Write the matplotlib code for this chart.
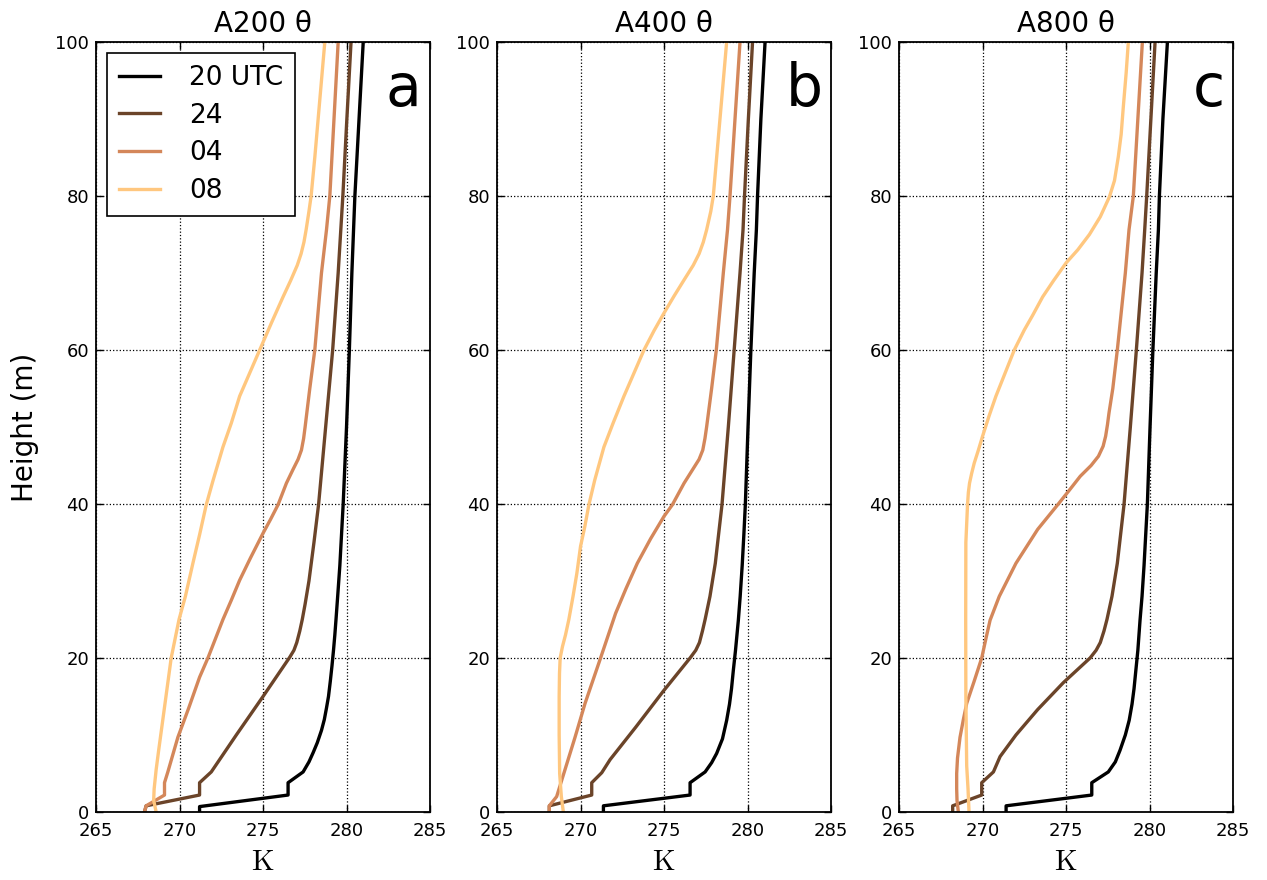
import matplotlib
matplotlib.use('Agg')
import matplotlib.pyplot as plt

plt.rcParams['mathtext.fontset'] = 'cm'

# legend labels / panel titles
times = ['20 UTC', '24', '04', '08']
colors = ['#000000', '#6b4429', '#d4875a', '#ffc77f']
titles = [u'A200 \u03b8', u'A400 \u03b8', u'A800 \u03b8']
letters = ['a', 'b', 'c']

# ---- panel a (A200) : heights (m) and potential temperature (K)
z_a_20 = [0, 0.7, 2.2, 3.8, 5.2, 6.5, 7.7, 9, 10.6, 12, 13.5, 15, 17, 19, 21, 23, 25, 28, 32,
          36, 40, 50, 60, 70, 80, 90, 100]
t_a_20 = [271.2, 271.2, 276.5, 276.5, 277.4, 277.75, 278.0, 278.25, 278.5, 278.67, 278.8, 278.92,
          279.03, 279.13, 279.22, 279.3, 279.37, 279.47, 279.6, 279.7, 279.8, 280.0, 280.17,
          280.32, 280.5, 280.75, 281.0]
z_a_24 = [0, 0.8, 2.2, 3.8, 5.2, 6.8, 10, 15, 20.1, 21, 22, 23.5, 25, 27, 30, 35, 40, 50, 60,
          70, 80, 90, 100]
t_a_24 = [267.9, 268.0, 271.2, 271.2, 271.9, 272.4, 273.4, 275.0, 276.6, 276.85, 277.02, 277.2,
          277.35, 277.52, 277.75, 278.05, 278.33, 278.75, 279.17, 279.5, 279.78, 280.02, 280.27]
z_a_04 = [0, 0.8, 2.2, 3.8, 5.2, 9.7, 13.5, 17.5, 20, 22.5, 25, 27.5, 30.1, 33, 36.2, 38, 39.9,
          42.7, 44.5, 45.8, 47, 48.5, 50, 55, 60, 65, 70, 75.6, 80, 90, 100]
t_a_04 = [267.9, 268.0, 269.1, 269.1, 269.3, 269.9, 270.55, 271.2, 271.7, 272.15, 272.6, 273.1,
          273.6, 274.25, 275.0, 275.45, 275.9, 276.4, 276.8, 277.1, 277.3, 277.43, 277.52,
          277.8, 278.1, 278.3, 278.5, 278.8, 279.0, 279.25, 279.5]
z_a_08 = [0, 1.5, 3, 5.5, 8, 12, 16, 20, 25, 28, 32.3, 36, 39.9, 43, 47.4, 50.5, 54, 57, 60,
          63.5, 66.9, 69, 71, 72.5, 74, 75.6, 78, 80, 85, 90, 95, 100]
t_a_08 = [268.6, 268.45, 268.48, 268.6, 268.75, 269.0, 269.25, 269.5, 269.97, 270.35, 270.8,
          271.2, 271.6, 272.0, 272.6, 273.1, 273.6, 274.2, 274.8, 275.5, 276.2, 276.65, 277.05,
          277.28, 277.45, 277.58, 277.75, 277.88, 278.1, 278.3, 278.5, 278.7]

# ---- panel b (A400)
z_b_20 = [0, 0.8, 2.2, 3.8, 5.2, 6.4, 7.6, 9.5, 11.9, 14, 16, 18.4, 21, 24.9, 28, 32, 36, 40,
          50, 60, 70, 75.6, 80, 90, 100]
t_b_20 = [271.37, 271.37, 276.56, 276.56, 277.46, 277.85, 278.15, 278.5, 278.75, 278.92, 279.04,
          279.15, 279.28, 279.45, 279.56, 279.68, 279.78, 279.87, 280.03, 280.2, 280.4, 280.53,
          280.6, 280.8, 281.05]
z_b_24 = [0, 0.8, 2.2, 3.8, 5.1, 6.8, 11, 15.7, 20, 21, 22, 23.5, 25, 28, 32.3, 39.9, 50, 60,
          70, 75.6, 80, 90, 100]
t_b_24 = [268.13, 268.13, 270.67, 270.67, 271.27, 271.77, 273.3, 274.96, 276.56, 276.9, 277.12,
          277.3, 277.46, 277.75, 278.07, 278.47, 278.85, 279.2, 279.55, 279.73, 279.82, 280.05,
          280.3]
z_b_04 = [0, 0.8, 2, 5.5, 9.7, 14.1, 20, 25.8, 29, 32.3, 35.5, 38.4, 39.9, 42.7, 45.8, 47,
          48.5, 50, 55, 60, 70, 75.6, 80, 90, 100]
t_b_04 = [268.13, 268.13, 268.57, 269.07, 269.67, 270.27, 271.2, 272.1, 272.72, 273.4, 274.2,
          275.0, 275.5, 276.2, 277.1, 277.32, 277.45, 277.55, 277.85, 278.13, 278.55, 278.8,
          278.95, 279.25, 279.55]
z_b_08 = [0, 2, 5, 10, 15, 18, 20, 21.5, 23, 25, 28, 31, 34.5, 37, 39.9, 43.1, 47.4, 50.5, 54,
          57, 60, 62.5, 64.8, 67, 69.1, 71, 72.5, 74, 75.6, 78, 80, 85, 90, 95, 100]
t_b_08 = [268.97, 268.85, 268.75, 268.72, 268.72, 268.74, 268.78, 268.92, 269.1, 269.3, 269.55,
          269.78, 270.0, 270.25, 270.5, 270.85, 271.4, 271.95, 272.6, 273.2, 273.8, 274.4,
          275.0, 275.6, 276.2, 276.75, 277.1, 277.35, 277.55, 277.8, 277.95, 278.15, 278.35,
          278.55, 278.75]

# ---- panel c (A800)
z_c_20 = [0, 0.8, 2.2, 3.8, 5.2, 6.5, 8.0, 10, 11.9, 14, 16, 18.4, 21, 24.9, 28, 32, 36, 40,
          50, 60, 70, 75.6, 80, 90, 100]
t_c_20 = [271.41, 271.41, 276.54, 276.54, 277.53, 277.95, 278.23, 278.55, 278.78, 278.95,
          279.07, 279.18, 279.3, 279.43, 279.55, 279.67, 279.77, 279.87, 280.03, 280.2, 280.4,
          280.53, 280.59, 280.8, 281.07]
z_c_24 = [0, 0.8, 2.2, 3.8, 5.2, 7.2, 10, 13.3, 16.8, 20, 21, 22, 23.5, 25, 28, 32.3, 39.9, 50,
          60, 70, 75.6, 80, 90, 100]
t_c_24 = [268.21, 268.21, 269.95, 269.95, 270.65, 271.05, 272.0, 273.3, 274.84, 276.44, 276.8,
          277.05, 277.27, 277.45, 277.75, 278.07, 278.47, 278.85, 279.21, 279.55, 279.71,
          279.83, 280.08, 280.33]
z_c_04 = [0, 1.5, 3, 5, 7, 9.7, 12, 14.1, 17, 20, 22.5, 24.9, 28, 32.3, 36.7, 39.9, 41.8, 43.6,
          45, 46.2, 47.5, 48.8, 50.3, 51.8, 55, 60, 70, 75.6, 80, 90, 100]
t_c_04 = [268.55, 268.47, 268.45, 268.45, 268.5, 268.65, 268.85, 269.05, 269.5, 269.95, 270.2,
          270.45, 271.0, 272.0, 273.3, 274.5, 275.2, 275.85, 276.5, 276.94, 277.22, 277.37,
          277.48, 277.57, 277.8, 278.07, 278.55, 278.77, 279.03, 279.3, 279.57]
z_c_08 = [0, 3, 6, 15, 25, 35, 39.9, 41.5, 42.7, 44, 45.3, 47, 48.8, 51.5, 54, 57, 60, 62.6,
          64.5, 66.9, 69, 71.3, 73, 75, 77.3, 79.9, 82, 85.1, 88, 91.6, 96, 100]
t_c_08 = [269.19, 269.13, 269.05, 269.0, 268.99, 269.0, 269.1, 269.15, 269.22, 269.35, 269.5,
          269.75, 270.0, 270.4, 270.8, 271.35, 271.9, 272.5, 273.0, 273.6, 274.25, 275.0, 275.7,
          276.4, 277.05, 277.6, 277.9, 278.13, 278.3, 278.43, 278.6, 278.73]

panels = [
    [(t_a_20, z_a_20), (t_a_24, z_a_24), (t_a_04, z_a_04), (t_a_08, z_a_08)],
    [(t_b_20, z_b_20), (t_b_24, z_b_24), (t_b_04, z_b_04), (t_b_08, z_b_08)],
    [(t_c_20, z_c_20), (t_c_24, z_c_24), (t_c_04, z_c_04), (t_c_08, z_c_08)],
]

fig = plt.figure(figsize=(12.67, 8.8), dpi=100)
lefts = [0.0758, 0.3923, 0.7096]

for i, curves in enumerate(panels):
    ax = fig.add_axes([lefts[i], 0.0773, 0.2636, 0.875])
    for (t, z), c, lab in zip(curves, colors, times):
        ax.plot(t, z, color=c, lw=2.4, label=lab, solid_joinstyle='round')
    ax.set_xlim(265, 285)
    ax.set_ylim(0, 100)
    ax.set_xticks([265, 270, 275, 280, 285])
    ax.set_yticks([0, 20, 40, 60, 80, 100])
    ax.grid(True, linestyle=':', color='k', linewidth=0.9)
    ax.tick_params(direction='in', top=True, right=True, length=5, width=1,
                   labelsize=13)
    ax.tick_params(axis='x', pad=7)
    ax.tick_params(axis='y', pad=5)
    for s in ax.spines.values():
        s.set_linewidth(1.3)
    ax.set_title(titles[i], fontsize=20, pad=7)
    ax.set_xlabel(r'$\mathrm{K}$', fontsize=21, labelpad=6)
    ax.text(0.975, 0.975, letters[i], transform=ax.transAxes, ha='right', va='top',
            fontsize=42)
    if i == 0:
        ax.set_ylabel('Height (m)', fontsize=20, labelpad=12)
        leg = ax.legend(loc='upper left', fontsize=19, handlelength=1.55,
                        handletextpad=1.1, labelspacing=0.44, borderpad=0.45,
                        borderaxespad=0.42, fancybox=False, framealpha=1)
        leg.get_frame().set_edgecolor('k')
        leg.get_frame().set_linewidth(1.2)

fig.savefig('out.png', dpi=100)
